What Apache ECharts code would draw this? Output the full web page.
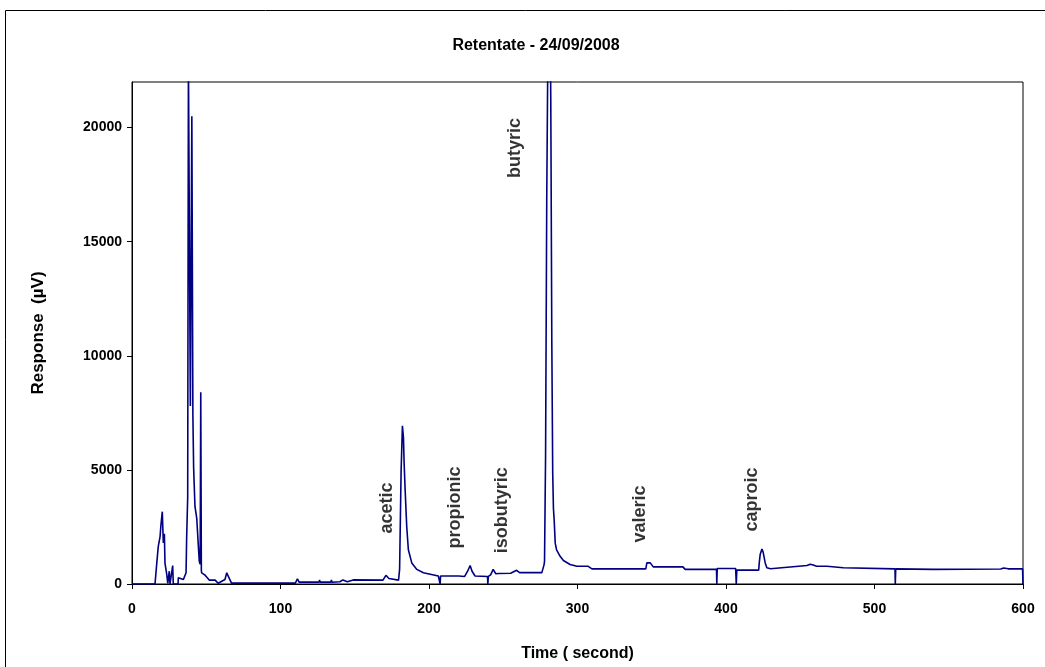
<!DOCTYPE html>
<html>
<head>
<meta charset="utf-8">
<script src="https://cdn.jsdelivr.net/npm/echarts@6/dist/echarts.min.js"></script>
<style>
  html, body { margin: 0; padding: 0; background: #fff; }
  #chart { width: 1045px; height: 667px; }
</style>
</head>
<body>
<div id="chart"></div>
<script>
// retention time (s) and detector response (uV)
var times = [
  0, 15.5, 16.6, 17.7, 18.9, 19.5, 20.4, 21.1, 21.8, 22.2, 23.4, 24.1, 25.1, 25.6, 27.4, 27.8,
  31.0, 31.2, 34.6, 36.4, 36.8, 37.5, 38.0, 39.0, 39.3, 40.3, 41.0, 41.5, 42.4, 43.6, 44.7,
  45.3, 45.9, 46.3, 46.7, 46.9, 49.0, 50.7, 52, 56, 58, 62.6, 63.8, 65.5, 67,
  110, 111.4, 112.5, 126, 126.3, 126.6, 134, 134.3, 134.6, 140, 142, 145, 149, 150, 169, 171, 173, 179.5,
  180.2, 181.2, 182.1, 182.8, 183.2, 183.9, 185, 186.1, 188.4, 191.8, 196.2, 206.3, 207.4, 207.5, 207.8,
  220, 224, 226, 227.7, 229, 231, 239.4, 239.6, 240, 241.5, 243.2, 245, 247, 255, 259, 261, 276,
  277.5, 277.8, 278.5, 279.3, 280, 281.8, 282.0, 282.2, 282.7, 283.3, 283.8, 284.3, 285, 285.9,
  288.3, 290.5, 295, 299.6, 307, 309.7, 346, 346.7, 349, 351, 353, 371, 372.5, 393.6, 393.8, 394.1,
  406.5, 406.9, 407.3, 422, 422.4, 423, 424.2, 425, 426.4, 427.5, 430, 454.5, 456.7, 458.7, 461, 468,
  479, 480, 513.8, 514, 514.3, 540, 585, 585.8, 587, 590, 599.7, 600
];
var responses = [
  0, 0, 850, 1650, 2080, 2590, 3170, 1800, 2200, 920, 420, 30, 560, 0, 810, 0,
  0, 270, 200, 490, 2020, 3800, 23000, 23000, 7800, 20500, 7400, 5100, 3400, 2880, 1650,
  1000, 870, 8400, 600, 490, 400, 275, 170, 170, 30, 200, 490, 250, 40,
  40, 230, 80, 80, 180, 80, 80, 180, 80, 100, 180, 100, 180, 170, 170, 380, 240, 170,
  640, 4900, 6930, 6420, 5400, 4180, 2520, 1500, 925, 640, 490, 350, 350, 0, 350,
  350, 330, 560, 810, 560, 350, 330, 0, 330, 400, 640, 450, 460, 470, 600, 500, 500,
  850, 1000, 5600, 17000, 23000, 23000, 21300, 18400, 10600, 4900, 3300, 2800, 1790, 1500,
  1215, 1030, 855, 780, 780, 665, 665, 925, 925, 750, 750, 750, 640, 640, 0, 680,
  680, 0, 610, 610, 925, 1290, 1530, 1400, 925, 710, 665, 810, 870, 830, 780, 780,
  710, 665, 665, 0, 665, 640, 660, 735, 700, 665, 665, 0
];

// peak names and where their (rotated) labels sit
var peakNames = ["acetic", "propionic", "isobutyric", "butyric", "valeric", "caproic"];
var peakTimes = [171.8, 217.6, 249.2, 258, 342.2, 417.6];
var peakLabelLevels = [2210, 1560, 1350, 17790, 1820, 2300];

var xTicks = [0, 100, 200, 300, 400, 500, 600];
var yTicks = [0, 5000, 10000, 15000, 20000];

var FONT = "Liberation Sans";

var trace = times.map(function (t, i) { return [t, responses[i]]; });
var labelPts = peakNames.map(function (n, i) {
  return { name: n, value: [peakTimes[i], peakLabelLevels[i]] };
});

var chart = echarts.init(document.getElementById("chart"));
chart.setOption({
  backgroundColor: "#fff",
  animation: false,
  grid: {
    left: 132,
    right: 22,
    top: 82,
    bottom: 79,
    show: true,
    borderColor: "#000",
    borderWidth: 1
  },
  graphic: [
    {
      type: "rect",
      shape: { x: 5.5, y: 10.5, width: 1100, height: 700 },
      style: { fill: "none", stroke: "#000", lineWidth: 1 },
      silent: true
    },
    {
      type: "text",
      x: 536,
      y: 46,
      style: {
        text: "Retentate - 24/09/2008",
        font: "bold 16px " + FONT,
        fill: "#000",
        align: "center",
        verticalAlign: "middle"
      }
    }
  ],
  xAxis: {
    type: "value",
    min: 0,
    max: 600,
    interval: 100,
    name: "Time ( second)",
    nameLocation: "middle",
    nameGap: 62,
    nameTextStyle: { fontFamily: FONT, fontWeight: "bold", fontSize: 16, color: "#000" },
    splitLine: { show: false },
    axisLine: { onZero: false, lineStyle: { color: "#000", width: 1 } },
    axisTick: { show: true, length: 5, lineStyle: { color: "#000" }, customValues: xTicks },
    axisLabel: {
      customValues: xTicks,
      margin: 18,
      fontFamily: FONT,
      fontWeight: "bold",
      fontSize: 14,
      color: "#000"
    }
  },
  yAxis: {
    type: "value",
    min: 0,
    max: 22000,
    name: "Response  (\u00b5V)",
    nameLocation: "middle",
    nameGap: 85,
    nameRotate: 90,
    nameTextStyle: { fontFamily: FONT, fontWeight: "bold", fontSize: 17, color: "#000" },
    splitLine: { show: false },
    axisLine: { show: true, lineStyle: { color: "#000", width: 1 } },
    axisTick: { show: true, length: 5, lineStyle: { color: "#000" }, customValues: yTicks },
    axisLabel: {
      customValues: yTicks,
      margin: 10,
      fontFamily: FONT,
      fontWeight: "bold",
      fontSize: 14,
      color: "#000",
      formatter: function (v) { return String(v); }
    }
  },
  series: [
    {
      name: "Response",
      type: "line",
      data: trace,
      showSymbol: false,
      symbol: "none",
      clip: true,
      lineStyle: { color: "#000080", width: 1.6 },
      z: 3
    },
    {
      name: "peaks",
      type: "scatter",
      data: labelPts,
      symbolSize: 0,
      silent: true,
      label: {
        show: true,
        position: "inside",
        rotate: 90,
        align: "left",
        verticalAlign: "middle",
        formatter: "{b}",
        fontFamily: FONT,
        fontWeight: "bold",
        fontSize: 18,
        color: "#000"
      },
      z: 4
    }
  ]
});
</script>
</body>
</html>
